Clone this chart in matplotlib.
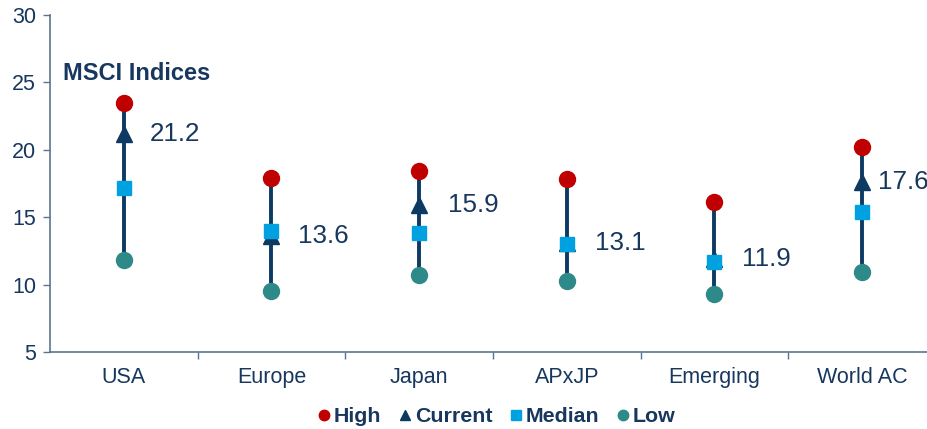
import numpy as np
import matplotlib.pyplot as plt
from matplotlib.lines import Line2D

plt.rcParams['font.family'] = ['Liberation Sans', 'DejaVu Sans']

categories = ["USA", "Europe", "Japan", "APxJP", "Emerging", "World AC"]
high = [23.5, 17.9, 18.4, 17.8, 16.1, 20.2]
current = [21.2, 13.6, 15.9, 13.1, 11.9, 17.6]
median = [17.2, 14.0, 13.8, 13.0, 11.7, 15.4]
low = [11.8, 9.5, 10.7, 10.3, 9.3, 10.9]

navy = "#0d3a63"
text_col = "#17375e"
c_high = "#c00000"
c_med = "#00a1e0"
c_low = "#2e8a88"
spine_col = "#5a7590"

fig = plt.figure(figsize=(9.28, 4.29), dpi=100)
ax = fig.add_axes([50 / 928, 1 - 352 / 429, 886 / 928, 337 / 429])

x = np.arange(len(categories))
ax.vlines(x, low, high, color=navy, lw=2.8, zorder=2)
ax.plot(x, high, 'o', color=c_high, ms=11.5, zorder=3, label="High")
ax.plot(x, current, '^', color=navy, ms=11, zorder=4, label="Current")
ax.plot(x, median, 's', color=c_med, ms=10, zorder=5, label="Median")
ax.plot(x, low, 'o', color=c_low, ms=11.5, zorder=6, label="Low")

# last label sits closer so it fits in the frame
offsets = [19, 19, 21, 20, 20, 11.5]
for xi, v, off in zip(x, current, offsets):
    ax.annotate(f"{v:.1f}", (xi, v), xytext=(off, 0), textcoords="offset points",
                va="center", ha="left", fontsize=18.7, color=text_col)

ax.text(0.015, 0.825, "MSCI Indices", transform=ax.transAxes, fontsize=17,
        fontweight="bold", color=text_col, va="center")

ax.set_xlim(-0.5, len(categories) - 0.5)
ax.set_ylim(5, 30)
ax.set_yticks([5, 10, 15, 20, 25, 30])
ax.set_xticks(x)
ax.set_xticklabels(categories)
ax.set_xticks(x[:-1] + 0.5, minor=True)
ax.tick_params(axis='x', which='major', length=0, pad=11, labelsize=15.5, labelcolor=text_col)
ax.tick_params(axis='x', which='minor', length=5, color=spine_col, width=1)
ax.tick_params(axis='y', length=5, color=spine_col, width=1, labelsize=15.5,
               labelcolor=text_col, pad=5)

for s in ["top", "right"]:
    ax.spines[s].set_visible(False)
for s in ["left", "bottom"]:
    ax.spines[s].set_color(spine_col)
    ax.spines[s].set_linewidth(1.2)

handles = [
    Line2D([], [], ls='none', marker='o', color=c_high, ms=7.5),
    Line2D([], [], ls='none', marker='^', color=navy, ms=7),
    Line2D([], [], ls='none', marker='s', color=c_med, ms=7.5),
    Line2D([], [], ls='none', marker='o', color=c_low, ms=7.5),
]
leg = fig.legend(handles, ["High", "Current", "Median", "Low"], loc="center",
                 bbox_to_anchor=(497 / 928, 1 - 417 / 429), ncol=4, frameon=False,
                 handlelength=0.5, handletextpad=0.2, columnspacing=0.85,
                 prop={"size": 15.4, "weight": "bold"})
for t in leg.get_texts():
    t.set_color(text_col)

fig.savefig("out.png", dpi=100)
